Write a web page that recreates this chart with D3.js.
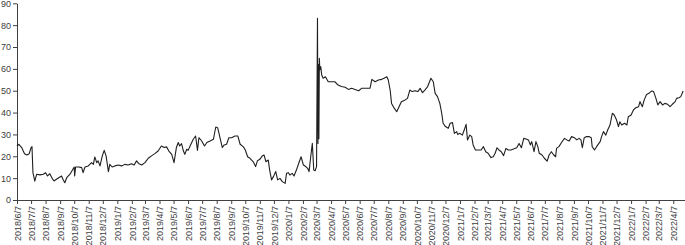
<!DOCTYPE html>
<html>
<head>
<meta charset="utf-8">
<script src="https://cdn.jsdelivr.net/npm/d3@7"></script>
<style>
    body { margin: 0; background: #fff; }
    svg { display: block; }
    .axis text { font-family: "Liberation Sans", Arial, sans-serif; font-size: 9px; fill: #404040; }
    .axis path, .axis line { stroke: #404040; }
</style>
</head>
<body>
<svg id="chart" width="685" height="245"></svg>
<script>
// series values, split by year
let series2018 = [
    ["2018-06-07",24.7],["2018-06-11",25.5],["2018-06-17",24],["2018-06-23",21.2],["2018-06-28",20.6],["2018-07-03",21.2],
    ["2018-07-07",24],["2018-07-09",24.4],["2018-07-11",12.5],["2018-07-15",8.6],["2018-07-19",11.8],["2018-07-26",11.5],
    ["2018-08-02",11.8],["2018-08-07",12.5],["2018-08-11",11],["2018-08-16",12],["2018-08-21",9.9],["2018-08-25",8.7],
    ["2018-08-30",9.5],["2018-09-04",10.2],["2018-09-10",11],["2018-09-13",9.5],["2018-09-17",7.9],["2018-09-21",10.2],
    ["2018-09-28",11.8],["2018-10-03",13.6],["2018-10-07",15.1],["2018-10-08",11],["2018-10-10",15.1],["2018-10-17",15.1],
    ["2018-10-23",14.8],["2018-10-26",12.5],["2018-10-30",15.1],["2018-11-06",15.6],["2018-11-13",17.1],["2018-11-17",16.3],
    ["2018-11-20",19.7],["2018-11-24",17.1],["2018-11-27",17.9],["2018-12-01",15.6],["2018-12-06",20.2],["2018-12-10",22.7],
    ["2018-12-14",20.2],["2018-12-19",13],["2018-12-22",16.3],["2018-12-27",15.1]
];
let series2019 = [
    ["2019-01-02",15.6],["2019-01-09",16],["2019-01-16",15.6],["2019-01-23",16.3],["2019-01-30",16],["2019-02-06",16.6],
    ["2019-02-12",16],["2019-02-17",17.9],["2019-02-22",16.6],["2019-02-28",16],["2019-03-07",17.1],["2019-03-14",19.1],
    ["2019-03-21",20.2],["2019-03-28",21.2],["2019-04-04",22.4],["2019-04-11",24.7],["2019-04-17",24],["2019-04-22",24.3],
    ["2019-04-27",22.4],["2019-05-03",20.9],["2019-05-08",17.1],["2019-05-13",24],["2019-05-17",26.3],["2019-05-20",24.7],
    ["2019-05-24",25.8],["2019-05-28",22.4],["2019-05-31",20.9],["2019-06-04",23.2],["2019-06-07",22.7],["2019-06-13",25.5],
    ["2019-06-18",27.8],["2019-06-23",29.3],["2019-06-27",22.7],["2019-06-30",28.5],["2019-07-06",27],["2019-07-12",24.7],
    ["2019-07-17",26.3],["2019-07-24",27],["2019-07-31",27.8],["2019-08-05",33.4],["2019-08-09",33.1],["2019-08-14",28.5],
    ["2019-08-19",24],["2019-08-23",25.2],["2019-08-28",25.5],["2019-09-02",28.5],["2019-09-08",28.5],["2019-09-15",29.3],
    ["2019-09-21",29.3],["2019-09-26",25.5],["2019-10-03",24.3],["2019-10-07",22.9],["2019-10-12",19.8],["2019-10-17",19.1],
    ["2019-10-24",17.5],["2019-10-29",15.3],["2019-11-02",18],["2019-11-07",18.6],["2019-11-12",20.1],["2019-11-16",20.6],
    ["2019-11-20",17.5],["2019-11-25",18.3],["2019-11-28",13.7],["2019-12-02",9.2],["2019-12-06",10.7],["2019-12-11",13],
    ["2019-12-15",9.2],["2019-12-20",9.9],["2019-12-25",8.4],["2019-12-31",7.6]
];
let series2020 = [
    ["2020-01-03",12.2],["2020-01-07",12.5],["2020-01-10",11.4],["2020-01-15",12.2],["2020-01-19",11],["2020-01-24",13.7],
    ["2020-01-29",16.8],["2020-02-03",19.8],["2020-02-08",16],["2020-02-13",15.3],["2020-02-17",14.5],["2020-02-20",13],
    ["2020-02-24",20.6],["2020-02-27",25.9],["2020-03-01",13.7],["2020-03-04",13.4],["2020-03-07",15.3],["2020-03-09",83.1],
    ["2020-03-10",25.9],["2020-03-11",62],["2020-03-12",28],["2020-03-13",64.8],["2020-03-14",59.5],["2020-03-16",61],
    ["2020-03-18",57.2],["2020-03-21",55.7],["2020-03-26",56.4],["2020-04-01",54.1],["2020-04-08",54.1],["2020-04-15",54.1],
    ["2020-04-22",52.6],["2020-04-29",51.9],["2020-05-07",51.6],["2020-05-14",50.6],["2020-05-21",51.1],["2020-05-28",50.6],
    ["2020-06-05",50],["2020-06-11",51.1],["2020-06-22",51.1],["2020-06-29",51.1],["2020-07-03",55.2],["2020-07-10",54.1],
    ["2020-07-17",54.9],["2020-07-24",55.2],["2020-07-29",55.7],["2020-08-04",56.4],["2020-08-07",54.9],["2020-08-11",50.3],
    ["2020-08-14",44.2],["2020-08-20",41.9],["2020-08-25",40.4],["2020-08-30",42.7],["2020-09-04",45],["2020-09-12",45.8],
    ["2020-09-17",46.5],["2020-09-22",50.3],["2020-09-27",49.6],["2020-10-03",50],["2020-10-09",49.6],["2020-10-14",51.1],
    ["2020-10-19",49.1],["2020-10-24",50.3],["2020-10-30",51.9],["2020-11-06",55.7],["2020-11-11",54.1],["2020-11-15",48.8],
    ["2020-11-20",47.3],["2020-11-25",44.2],["2020-11-29",39.7],["2020-12-02",35.1],["2020-12-07",33.6],["2020-12-13",32.8],
    ["2020-12-17",35.1],["2020-12-22",35.4],["2020-12-26",30.5],["2020-12-31",31.3]
];
let series2021 = [
    ["2021-01-02",30],["2021-01-07",30.5],["2021-01-12",29.7],["2021-01-16",32],["2021-01-20",34.6],["2021-01-23",27.5],
    ["2021-01-28",29.7],["2021-02-01",29],["2021-02-04",25.2],["2021-02-09",22.9],["2021-02-15",22.9],["2021-02-21",22.9],
    ["2021-02-26",24.4],["2021-03-03",22.1],["2021-03-08",21.4],["2021-03-14",19.4],["2021-03-19",19.8],["2021-03-23",21.4],
    ["2021-03-27",23.9],["2021-03-31",22.9],["2021-04-05",22.1],["2021-04-10",20.3],["2021-04-15",23.6],["2021-04-20",22.9],
    ["2021-04-26",22.9],["2021-05-01",23.3],["2021-05-08",23.9],["2021-05-13",25.9],["2021-05-18",23.9],["2021-05-23",28.2],
    ["2021-05-28",27.9],["2021-06-02",27.5],["2021-06-06",25.2],["2021-06-09",26.7],["2021-06-14",22.1],["2021-06-18",26.7],
    ["2021-06-22",24.4],["2021-06-25",21.4],["2021-07-01",20.6],["2021-07-06",19.1],["2021-07-12",17.8],["2021-07-16",20.6],
    ["2021-07-21",22.1],["2021-07-26",20.6],["2021-07-30",19.8],["2021-08-01",23.6],["2021-08-06",24.4],["2021-08-12",26.4],
    ["2021-08-18",28.2],["2021-08-23",27.5],["2021-08-28",27],["2021-09-02",29],["2021-09-08",28.5],["2021-09-13",27.5],
    ["2021-09-18",28.2],["2021-09-22",27.5],["2021-09-25",23.9],["2021-09-29",28.5],["2021-10-04",29],["2021-10-09",29],
    ["2021-10-14",28.5],["2021-10-16",24.4],["2021-10-21",22.9],["2021-10-24",23.9],["2021-10-28",25.2],["2021-11-02",26.7],
    ["2021-11-05",29],["2021-11-09",31.3],["2021-11-14",29.7],["2021-11-18",32],["2021-11-23",34.3],["2021-11-28",39.7],
    ["2021-12-02",38.9],["2021-12-07",36.6],["2021-12-11",33.6],["2021-12-14",35.8],["2021-12-18",34.3],["2021-12-24",35.1],
    ["2021-12-29",34.3]
];
let series2022 = [
    ["2022-01-01",38.1],["2022-01-07",38.9],["2022-01-12",41.2],["2022-01-17",42.2],["2022-01-23",42.7],["2022-01-26",45],
    ["2022-01-31",42.7],["2022-02-04",45.8],["2022-02-09",48.3],["2022-02-14",48.8],["2022-02-20",49.9],["2022-02-24",49.6],
    ["2022-03-01",46.5],["2022-03-05",43.5],["2022-03-10",45],["2022-03-15",43.5],["2022-03-20",44.2],["2022-03-26",43.8],
    ["2022-03-31",42.7],["2022-04-05",43.8],["2022-04-11",45],["2022-04-14",46.5],["2022-04-19",46.8],["2022-04-23",47.3],
    ["2022-04-28",49.9]
];

let yTicks = [0, 10, 20, 30, 40, 50, 60, 70, 80, 90];
let xTickLabels = [
    "2018/6/7","2018/7/7","2018/8/7","2018/9/7","2018/10/7","2018/11/7","2018/12/7",
    "2019/1/7","2019/2/7","2019/3/7","2019/4/7","2019/5/7","2019/6/7","2019/7/7","2019/8/7","2019/9/7","2019/10/7","2019/11/7","2019/12/7",
    "2020/1/7","2020/2/7","2020/3/7","2020/4/7","2020/5/7","2020/6/7","2020/7/7","2020/8/7","2020/9/7","2020/10/7","2020/11/7","2020/12/7",
    "2021/1/7","2021/2/7","2021/3/7","2021/4/7","2021/5/7","2021/6/7","2021/7/7","2021/8/7","2021/9/7","2021/10/7","2021/11/7","2021/12/7",
    "2022/1/7","2022/2/7","2022/3/7","2022/4/7"
];

(function () {
    'use strict';

    let parseDay = d3.timeParse("%Y-%m-%d");
    let parseLabel = d3.timeParse("%Y/%m/%d");
    let formatLabel = d3.timeFormat("%Y/%-m/%-d");

    let data = [].concat(series2018, series2019, series2020, series2021, series2022)
        .map(d => ({date: parseDay(d[0]), value: d[1]}));
    let tickDates = xTickLabels.map(s => parseLabel(s));

    let svg = d3.select("#chart");
    let left = 17, right = 685, top = 3.3, bottom = 200;

    let x = d3.scaleTime()
        .domain([parseDay("2018-06-07"), parseDay("2022-05-02")])
        .range([left, right]);
    let y = d3.scaleLinear().domain([0, 90]).range([bottom, top]);

    // y axis
    svg.append("g")
        .attr("class", "axis")
        .attr("transform", "translate(" + left + ",0)")
        .call(d3.axisLeft(y).tickValues(yTicks).tickSize(4).tickSizeOuter(0).tickPadding(2));

    // x axis, labels rotated
    let xAxis = svg.append("g")
        .attr("class", "axis")
        .attr("transform", "translate(0," + bottom + ")")
        .call(d3.axisBottom(x).tickValues(tickDates).tickFormat(formatLabel).tickSize(4).tickSizeOuter(0));
    xAxis.selectAll("text")
        .attr("transform", "rotate(-90)")
        .attr("x", -6)
        .attr("y", 0)
        .attr("dy", "0.35em")
        .style("text-anchor", "end");

    let line = d3.line()
        .x(d => x(d.date))
        .y(d => y(d.value));

    svg.append("path")
        .datum(data)
        .attr("fill", "none")
        .attr("stroke", "#1f1f1f")
        .attr("stroke-width", 1.1)
        .attr("stroke-linejoin", "round")
        .attr("d", line);
}());
</script>
</body>
</html>
